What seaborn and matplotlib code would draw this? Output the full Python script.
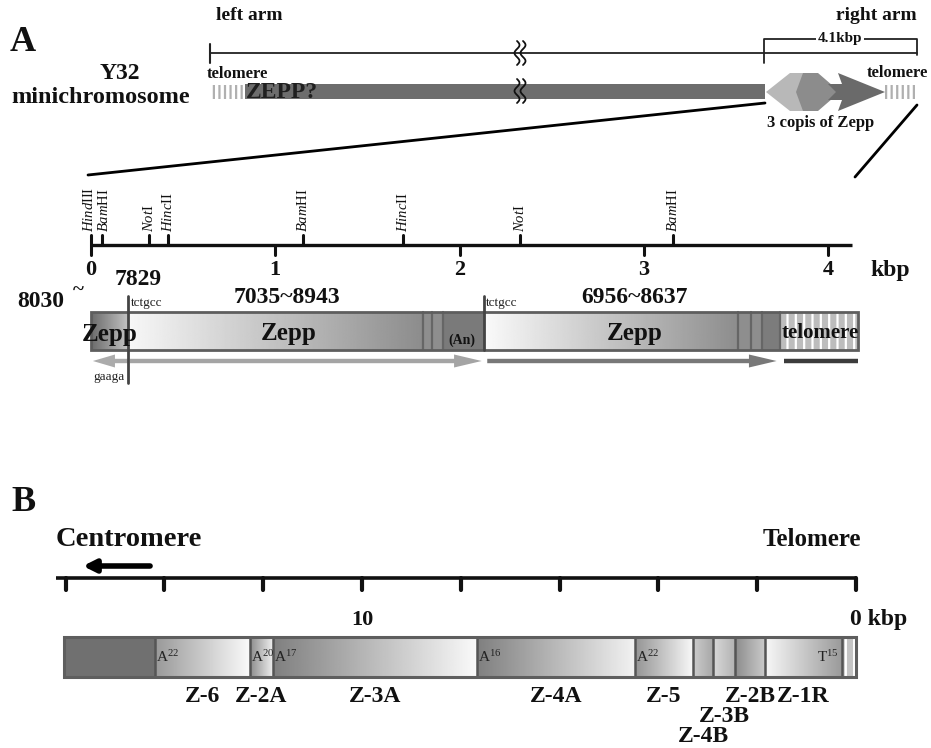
import numpy as np
import matplotlib.pyplot as plt
from matplotlib.patches import Rectangle, Polygon
import seaborn as sns

# ── Data ──────────────────────────────────────────────────────────────────────
# Panel A, detail of the right arm (kbp from the start of the enlarged region)
A_TICKS = [0, 1, 2, 3, 4]
SITE_KBP = [0.0, 0.06, 0.315, 0.42, 1.15, 1.695, 2.33, 3.16]
SITE_LABEL = [r"$\it{Hind}$III", r"$\it{Bam}$HI", r"$\it{Not}$I", r"$\it{Hinc}$II",
              r"$\it{Bam}$HI", r"$\it{Hinc}$II", r"$\it{Not}$I", r"$\it{Bam}$HI"]
SITE_NUDGE = [-0.012, 0.012, 0, 0, 0, 0, 0, 0]   # keep the first two labels apart
A_AXIS_END = 4.13

# gradient parts of the Zepp copies: start, end, grey level left, grey level right
A_GRAD_START = [0.0, 0.20, 2.13]
A_GRAD_END = [0.20, 1.80, 3.51]
A_GRAD_LEFT = [0.42, 0.97, 0.98]
A_GRAD_RIGHT = [0.76, 0.55, 0.55]
# flat grey blocks at the 3' end of each copy
A_FLAT_START = [1.80, 1.91, 3.51, 3.64]
A_FLAT_END = [1.91, 2.13, 3.64, 3.74]
A_FLAT_COLOR = ["#8e8e8e", "#7a7a7a", "#8e8e8e", "#7c7c7c"]
A_STRIPES = [1.80, 1.85, 1.91, 3.51, 3.58, 3.64, 3.74]
A_TELO = [3.74, 4.16]
A_JUNCTIONS = [0.20, 2.13]

# Panel B, Y32 Zepp cluster (kbp from the telomere)
B_TICKS = [0, 2, 4, 6, 8, 10, 12, 14, 16]
B_EDGES = [16.03, 14.19, 12.27, 11.80, 7.67, 4.47, 3.30, 2.89, 2.45, 1.84, 0.28, 0.0]
B_NAMES = ["", "Z-6", "Z-2A", "Z-3A", "Z-4A", "Z-5", "Z-4B", "Z-3B", "Z-2B", "Z-1R", ""]
B_NAME_ROW = [0, 0, 0, 0, 0, 0, 2, 1, 0, 0, 0]
B_TAIL = ["", "A$^{22}$", "A$^{20}$", "A$^{17}$", "A$^{16}$", "A$^{22}$", "", "", "", "T$^{15}$", ""]
B_GREY_LEFT = [None, 0.60, 0.55, 0.50, 0.50, 0.58, 0.80, 0.85, 0.55, 0.97, None]
B_GREY_RIGHT = [None, 0.98, 0.95, 0.98, 0.95, 0.97, 0.65, 0.70, 0.80, 0.60, None]

# ── Style ─────────────────────────────────────────────────────────────────────
sns.set_theme(style="white")
plt.rcParams["font.family"] = ["Liberation Serif", "DejaVu Serif"]
plt.rcParams["mathtext.fontset"] = "custom"
plt.rcParams["mathtext.rm"] = "Liberation Serif"
plt.rcParams["mathtext.it"] = "Liberation Serif:italic"
plt.rcParams["mathtext.bf"] = "Liberation Serif:bold"
plt.rcParams["hatch.linewidth"] = 1.6

W, H = 931, 748
fig = plt.figure(figsize=(W / 100, H / 100), dpi=100)
fig.patch.set_facecolor("white")

# three overlaid axes: schematic (pixels), panel A (kbp), panel B (kbp, reversed)
ax_top = fig.add_axes([0, 0, 1, 1], label="top")
ax_a = fig.add_axes([0, 0, 1, 1], label="a")
ax_b = fig.add_axes([0, 0, 1, 1], label="b")
for ax in (ax_top, ax_a, ax_b):
    ax.set_axis_off()
    ax.patch.set_alpha(0)

A_X0, A_SCALE = 91, 184.3      # px of 0 kbp, px per kbp
B_X0, B_SCALE = 856, 49.4
BOLD = dict(fontweight="bold", color="#111111")


def grad(ax, x0, x1, y0, y1, c0, c1):
    ax.imshow(np.linspace(c0, c1, 256)[None, :], extent=[x0, x1, y1, y0],
              cmap="gray", vmin=0, vmax=1, aspect="auto",
              interpolation="bilinear", zorder=1)


def arrow(ax, x0, x1, y, shaft, head, head_len, color):
    d = np.sign(x1 - x0)
    xh = x1 - d * head_len
    pts = [(x0, y - shaft), (xh, y - shaft), (xh, y - head), (x1, y),
           (xh, y + head), (xh, y + shaft), (x0, y + shaft)]
    ax.add_patch(Polygon(pts, closed=True, facecolor=color, lw=0, zorder=3))


# ── Panel A, whole minichromosome (schematic) ─────────────────────────────────
t = ax_top
t.text(23, 42, "A", fontsize=26, ha="center", va="center", **BOLD)
t.text(249, 15, "left arm", fontsize=14, ha="center", va="center", **BOLD)
t.text(876, 15, "right arm", fontsize=14, ha="center", va="center", **BOLD)
t.plot([210, 917], [53, 53], color="#222222", lw=1.3)
t.plot([210, 210], [44, 63], color="#222222", lw=1.5)
# 4.1 kbp bracket
t.plot([764, 764, 917, 917], [63, 39, 39, 55], color="#222222", lw=1.3)
t.text(840, 38, "4.1kbp", fontsize=11, ha="center", va="center",
       bbox=dict(facecolor="white", edgecolor="none", pad=1), **BOLD)

t.text(120, 73, "Y32", fontsize=17, ha="center", va="center", **BOLD)
t.text(101, 97, "minichromosome", fontsize=17.5, ha="center", va="center", **BOLD)
t.text(237, 74, "telomere", fontsize=12, ha="center", va="center", **BOLD)
t.add_patch(Rectangle((210, 85), 35, 14, facecolor="white", edgecolor="#b0b0b0",
                      hatch="|||", lw=0))
t.add_patch(Rectangle((245, 84), 520, 15, facecolor="#6d6d6d", lw=0))
t.text(246, 92, "ZEPP?", fontsize=17, ha="left", va="center", color="#202020",
       fontweight="bold")
# three Zepp copies
t.add_patch(Polygon([(766, 92), (790, 73), (803, 73), (803, 111), (790, 111)],
                    facecolor="#b8b8b8", lw=0))
t.add_patch(Polygon([(803, 73), (818, 73), (840, 92), (818, 111), (803, 111), (796, 92)],
                    facecolor="#8c8c8c", lw=0))
t.add_patch(Polygon([(828, 84), (842, 84), (838, 73), (885, 92), (838, 111), (842, 100),
                     (828, 100), (836, 92)], facecolor="#6a6a6a", lw=0))
t.add_patch(Rectangle((885, 85), 30, 14, facecolor="white", edgecolor="#b0b0b0",
                      hatch="|||", lw=0))
t.text(897, 73, "telomere", fontsize=12, ha="center", va="center", **BOLD)
t.text(821, 123, "3 copis of Zepp", fontsize=12, ha="center", va="center", **BOLD)
# break marks
yy = np.linspace(0, 1, 60)
for y0 in (41, 79):
    for dx in (0, 6):
        t.plot(517 + dx + 2.5 * np.sin(2 * np.pi * yy * 1.5), y0 + 24 * yy,
               color="#111111", lw=1.3)
# zoom lines to the enlarged region
t.plot([765, 88], [103, 175], color="black", lw=2)
t.plot([917, 855], [105, 177], color="black", lw=2)

# ── Panel A, enlarged right arm ───────────────────────────────────────────────
a = ax_a
a.plot([0, A_AXIS_END], [245, 245], color="#111111", lw=2.4, solid_capstyle="butt")
for k in A_TICKS:
    a.plot([k, k], [245, 255], color="#111111", lw=2.2)
    a.text(k, 270, str(k), fontsize=16, ha="center", va="center", **BOLD)
a.text(4.335, 270, "kbp", fontsize=17, ha="center", va="center", **BOLD)
for k, lab, dk in zip(SITE_KBP, SITE_LABEL, SITE_NUDGE):
    a.plot([k, k], [245, 235], color="#111111", lw=2.2)
    a.text(k + dk, 232, lab, fontsize=10.5, rotation=90, ha="center", va="bottom",
           color="#111111")

BAR_T, BAR_B = 312, 350
for x0, x1, c0, c1 in zip(A_GRAD_START, A_GRAD_END, A_GRAD_LEFT, A_GRAD_RIGHT):
    grad(a, x0, x1, BAR_T, BAR_B, c0, c1)
for x0, x1, c in zip(A_FLAT_START, A_FLAT_END, A_FLAT_COLOR):
    a.add_patch(Rectangle((x0, BAR_T), x1 - x0, BAR_B - BAR_T, facecolor=c, lw=0, zorder=1))
a.add_patch(Rectangle((A_TELO[0], BAR_T), A_TELO[1] - A_TELO[0], BAR_B - BAR_T,
                      facecolor="#bdbdbd", edgecolor="white", hatch="||", lw=0, zorder=1))
for k in A_STRIPES:
    a.plot([k, k], [BAR_T, BAR_B], color="#666666", lw=1.6, zorder=2)
a.add_patch(Rectangle((0, BAR_T), A_TELO[1], BAR_B - BAR_T, facecolor="none",
                      edgecolor="#5e5e5e", lw=2, zorder=4))
a.plot([A_JUNCTIONS[0]] * 2, [296, 383], color="#444444", lw=2, zorder=5)
a.plot([A_JUNCTIONS[1]] * 2, [296, BAR_B], color="#444444", lw=2, zorder=5)

# transcript arrows
arrow(a, 0.20, 0.01, 361, 2.2, 6.5, 0.12, "#ababab")
arrow(a, 0.21, 2.12, 361, 2.2, 6.5, 0.15, "#a4a4a4")
arrow(a, 2.15, 3.72, 361, 2.2, 6.5, 0.15, "#787878")
a.plot([3.76, A_TELO[1]], [361, 361], color="#3c3c3c", lw=3.2, solid_capstyle="butt")

a.text(0.255, 279, "7829", fontsize=17, ha="center", va="center", **BOLD)
a.text(-0.27, 301, "8030", fontsize=17, ha="center", va="center", **BOLD)
a.text(-0.07, 291, "~", fontsize=15, ha="center", va="center", **BOLD)
a.text(0.215, 303, "tctgcc", fontsize=9.5, ha="left", va="center", color="#222222")
a.text(2.145, 303, "tctgcc", fontsize=9.5, ha="left", va="center", color="#222222")
a.text(1.063, 297, "7035~8943", fontsize=17, ha="center", va="center", **BOLD)
a.text(2.95, 297, "6956~8637", fontsize=17, ha="center", va="center", **BOLD)
a.text(0.10, 334, "Zepp", fontsize=18, ha="center", va="center", zorder=6, **BOLD)
a.text(1.07, 333, "Zepp", fontsize=18, ha="center", va="center", zorder=6, **BOLD)
a.text(2.95, 333, "Zepp", fontsize=18, ha="center", va="center", zorder=6, **BOLD)
a.text(2.01, 340, "(An)", fontsize=10, ha="center", va="center", zorder=6, **BOLD)
a.text(3.955, 333, "telomere", fontsize=15, ha="center", va="center", zorder=6, **BOLD)
a.text(0.10, 377, "gaaga", fontsize=9.5, ha="center", va="center", color="#222222")

# ── Panel B ───────────────────────────────────────────────────────────────────
b = ax_b
b.text(16.86, 502, "B", fontsize=26, ha="center", va="center", **BOLD)
b.text(16.21, 540, "Centromere", fontsize=20.5, ha="left", va="center", **BOLD)
b.text(0.89, 540, "Telomere", fontsize=18, ha="center", va="center", **BOLD)
b.annotate("", xy=(15.65, 566), xytext=(14.29, 566),
           arrowprops=dict(arrowstyle="-|>", lw=4, color="black", mutation_scale=18,
                           shrinkA=0, shrinkB=0))
b.plot([16.2, 0], [578, 578], color="#111111", lw=2.6, solid_capstyle="butt")
for k in B_TICKS:
    b.plot([k, k], [578, 590], color="#111111", lw=3)
b.text(10, 620, "10", fontsize=16, ha="center", va="center", **BOLD)
b.text(0.12, 620, "0 kbp", fontsize=17, ha="left", va="center", **BOLD)

BT, BB = 637, 677
for i in range(len(B_NAMES)):
    x0, x1 = B_EDGES[i], B_EDGES[i + 1]
    if i == 0:
        b.add_patch(Rectangle((x1, BT), x0 - x1, BB - BT, facecolor="#707070", lw=0, zorder=1))
    elif i == len(B_NAMES) - 1:
        b.add_patch(Rectangle((x1, BT), x0 - x1, BB - BT, facecolor="#c4c4c4",
                              edgecolor="white", hatch="||", lw=0, zorder=1))
    else:
        grad(b, x0, x1, BT, BB, B_GREY_LEFT[i], B_GREY_RIGHT[i])
    if B_NAMES[i]:
        b.text((x0 + x1) / 2, 697 + 20 * B_NAME_ROW[i], B_NAMES[i], fontsize=17,
               ha="center", va="center", **BOLD)
    if B_TAIL[i]:
        if B_TAIL[i].startswith("T"):
            b.text(x1 + 0.06, 657, B_TAIL[i], fontsize=11, ha="right", va="center",
                   color="#222222", zorder=6)
        else:
            b.text(x0 - 0.02, 657, B_TAIL[i], fontsize=11, ha="left", va="center",
                   color="#222222", zorder=6)
for k in B_EDGES[1:-1]:
    b.plot([k, k], [BT, BB], color="#555555", lw=1.8, zorder=3)
b.add_patch(Rectangle((0, BT), B_EDGES[0], BB - BT, facecolor="none",
                      edgecolor="#5e5e5e", lw=2.2, zorder=4))

# ── Limits (after imshow) ─────────────────────────────────────────────────────
ax_top.set_xlim(0, W)
ax_top.set_ylim(H, 0)
ax_a.set_xlim(-A_X0 / A_SCALE, (W - A_X0) / A_SCALE)
ax_a.set_ylim(H, 0)
ax_b.set_xlim(B_X0 / B_SCALE, (B_X0 - W) / B_SCALE)
ax_b.set_ylim(H, 0)

fig.savefig("out.png", dpi=100, facecolor="white")
